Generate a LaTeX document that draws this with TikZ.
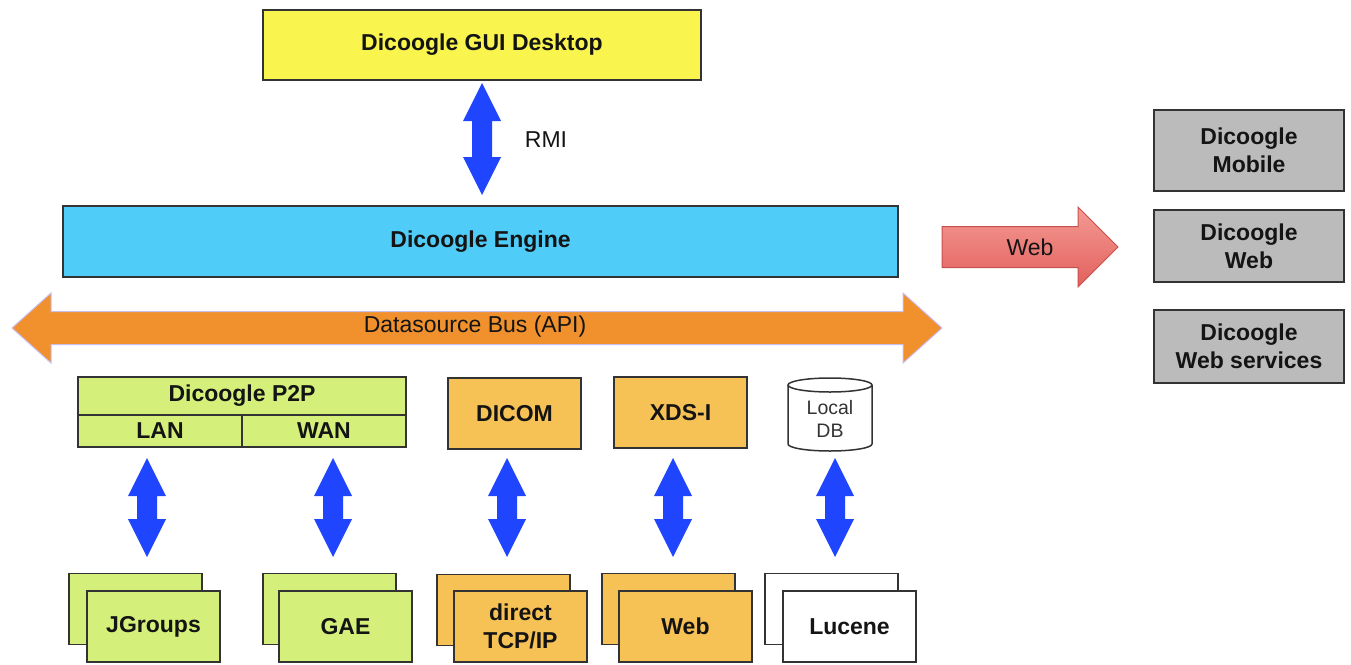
\documentclass[tikz,border=0pt]{standalone}
\usepackage{fontspec}
\setmainfont{Liberation Sans}
\usetikzlibrary{calc}
\definecolor{guiyellow}{HTML}{F9F44E}
\definecolor{engineblue}{HTML}{50CCF8}
\definecolor{p2pgreen}{HTML}{D5F07A}
\definecolor{srcorange}{HTML}{F6C155}
\definecolor{busorange}{HTML}{F0912D}
\definecolor{buslavender}{HTML}{C9BDF2}
\definecolor{boxgray}{HTML}{BBBBBB}
\definecolor{arrowblue}{HTML}{1F45FF}
\definecolor{boxline}{HTML}{333333}
\definecolor{txt}{HTML}{141414}
\definecolor{webtop}{HTML}{F49A94}
\definecolor{webbot}{HTML}{E2605C}
\definecolor{webline}{HTML}{C8504C}
\tikzset{
  box/.style={draw=boxline, line width=1.5pt, inner sep=0pt, align=center,
    font=\bfseries\fontsize{23}{28}\selectfont, text=txt},
  srcbox/.style={box, minimum width=133pt, minimum height=71pt},
  label/.style={inner sep=0pt, font=\fontsize{23}{28}\selectfont, text=txt},
}
% vertical double block arrow between two coordinates (top, bottom)
\newcommand\vblock[2]{%
  \fill[arrowblue] let \p1=(#1), \p2=(#2) in
    (\x1,\y1) -- ++(19pt,-38pt) -- ++(-9pt,0pt) -- (\x2+10pt,\y2+38pt)
    -- ++(9pt,0pt) -- (\x2,\y2) -- ++(-19pt,38pt) -- ++(9pt,0pt)
    -- (\x1-10pt,\y1-38pt) -- ++(-9pt,0pt) -- cycle;}
\begin{document}
\begin{tikzpicture}[x=1pt,y=-1pt]
\path[use as bounding box] (0,0) rectangle (1351,664);

% top
\node[box, fill=guiyellow, minimum width=438pt, minimum height=70pt] (gui) at (482,45) {Dicoogle GUI Desktop};
\node[box, fill=engineblue, minimum width=835pt, minimum height=71pt] (engine) at (480.5,241.5) {Dicoogle Engine};
\coordinate (rmiT) at (482,83);
\coordinate (rmiB) at (482,195);
\vblock{rmiT}{rmiB}
\node[label] (rmi) at (546,140) {RMI};

% datasource bus
\coordinate (busL) at (12,328);
\coordinate (busR) at (942,328);
\filldraw[fill=busorange, draw=buslavender, line width=1pt] let \p1=(busL), \p2=(busR) in
  (\x1,\y1) -- ++(39pt,35pt) -- ++(0pt,-18.5pt) -- (\x2-39pt,\y1+16.5pt) -- ++(0pt,18.5pt)
  -- (\x2,\y2) -- ++(-39pt,-35pt) -- ++(0pt,18.5pt) -- (\x1+39pt,\y1-16.5pt) -- ++(0pt,-18.5pt) -- cycle;
\node[label] (bus) at (475,327) {Datasource Bus (API)};

% web arrow
\coordinate (webL) at (942,247);
\coordinate (webR) at (1118,247);
\shade[top color=webtop, bottom color=webbot, draw=webline, line width=1pt] let \p1=(webL), \p2=(webR) in
  (\x1,\y1+20.5pt) -- (\x2-40pt,\y1+20.5pt) -- (\x2-40pt,\y1+40pt) -- (\x2,\y2)
  -- (\x2-40pt,\y1-40pt) -- (\x2-40pt,\y1-20.5pt) -- (\x1,\y1-20.5pt) -- cycle;
\node[label] (weblabel) at (1030,247) {Web};

% right boxes
\node[box, fill=boxgray, minimum width=190pt, minimum height=81pt] (mobile) at (1249,150.5) {Dicoogle\\Mobile};
\node[box, fill=boxgray, minimum width=190pt, minimum height=72pt] (dweb) at (1249,246) {Dicoogle\\Web};
\node[box, fill=boxgray, minimum width=190pt, minimum height=73pt] (dws) at (1249,346.5) {Dicoogle\\Web services};

% P2P
\node[box, fill=p2pgreen, minimum width=328pt, minimum height=38pt] (p2p) at (242,396) {Dicoogle P2P};
\node[box, fill=p2pgreen, minimum width=164pt, minimum height=32pt] (lan) at (160,431) {LAN};
\node[box, fill=p2pgreen, minimum width=164pt, minimum height=32pt] (wan) at (324,431) {WAN};

% DICOM, XDS-I
\node[srcbox, fill=srcorange] (dicom) at (514.5,413.5) {DICOM};
\node[srcbox, fill=srcorange] (xds) at (680.5,412.5) {XDS-I};

% Local DB cylinder
\filldraw[fill=white, draw=boxline, line width=1.5pt] (788,385) -- (788,444)
  arc[start angle=180, end angle=360, x radius=42pt, y radius=7pt] -- (872,385);
\filldraw[fill=white, draw=boxline, line width=1.5pt] (830,385) ellipse [x radius=42pt, y radius=7pt];
\node[inner sep=0pt, align=center, font=\fontsize{19.5}{23}\selectfont, text=boxline] (db) at (830,419) {Local\\DB};

% bottom stacks
\node[srcbox, fill=p2pgreen] (jgb) at (135.5,609) {};
\node[srcbox, fill=p2pgreen] (jg) at (153.5,626.5) {JGroups};
\node[srcbox, fill=p2pgreen] (gaeb) at (329.5,609) {};
\node[srcbox, fill=p2pgreen] (gae) at (345.5,626.5) {GAE};
\node[srcbox, fill=srcorange] (tcpb) at (503.5,610) {};
\node[srcbox, fill=srcorange] (tcp) at (520.5,626.5) {direct\\TCP/IP};
\node[srcbox, fill=srcorange] (wwb) at (668.5,609) {};
\node[srcbox, fill=srcorange] (ww) at (685.5,626.5) {Web};
\node[srcbox, fill=white] (lucb) at (831.5,609) {};
\node[srcbox, fill=white] (luc) at (849.5,626.5) {Lucene};

% vertical arrows lower row
\coordinate (a1T) at (147,458); \coordinate (a1B) at (147,557);
\coordinate (a2T) at (333,458); \coordinate (a2B) at (333,557);
\coordinate (a3T) at (507,458); \coordinate (a3B) at (507,557);
\coordinate (a4T) at (673,458); \coordinate (a4B) at (673,557);
\coordinate (a5T) at (835,458); \coordinate (a5B) at (835,557);
\vblock{a1T}{a1B}
\vblock{a2T}{a2B}
\vblock{a3T}{a3B}
\vblock{a4T}{a4B}
\vblock{a5T}{a5B}
\end{tikzpicture}
\end{document}
